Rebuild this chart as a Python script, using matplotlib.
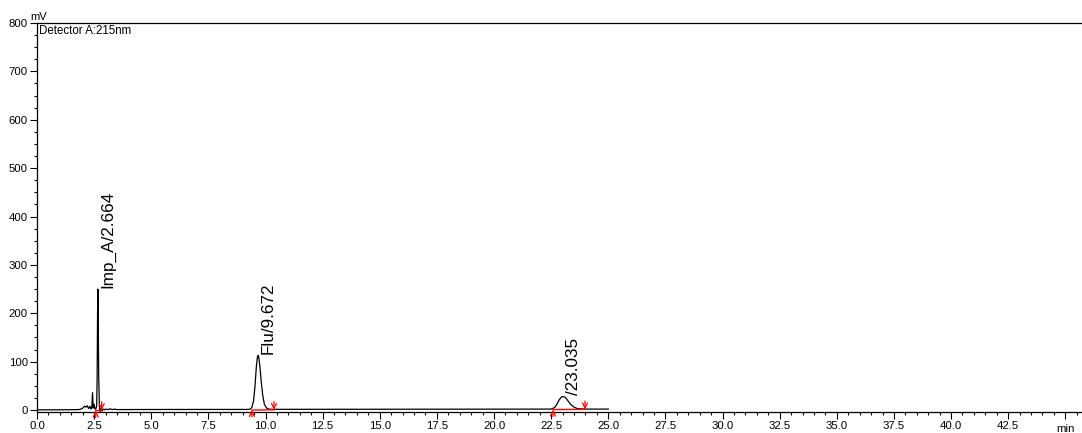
import numpy as np
import matplotlib
matplotlib.use("Agg")
import matplotlib.pyplot as plt
from matplotlib.ticker import MultipleLocator

plt.rcParams['font.family'] = ['Liberation Sans', 'DejaVu Sans']

# chromatogram trace (time in min, signal in mV)
time_min = [0.0, 1.0, 1.8, 1.9, 2.0, 2.08, 2.14, 2.2, 2.26, 2.32, 2.36, 2.40, 2.43,
            2.46, 2.50, 2.54, 2.58, 2.61, 2.63, 2.65, 2.664, 2.68, 2.70, 2.73, 2.76,
            2.80, 2.84, 2.90, 2.95, 3.0, 3.1, 3.2, 3.3, 3.4, 3.5, 5.0, 7.5, 9.2,
            9.30, 9.40, 9.48, 9.54, 9.60, 9.64, 9.672, 9.70, 9.75, 9.81, 9.88, 9.95,
            10.05, 10.15, 10.3, 12.5, 15.0, 17.5, 20.0, 22.4, 22.5, 22.65, 22.75,
            22.85, 22.95, 23.035, 23.12, 23.22, 23.35, 23.5, 23.65, 23.8, 24.0, 25.0]
signal_mv = [0.5, 0.5, 1.0, 1.5, 4.0, 8.0, 6.0, 9.0, 3.0, 8.0, 2.0, 5.0, 36.0,
             4.0, 12.0, 2.0, 3.0, 8.0, 60.0, 200.0, 250.0, 190.0, 70.0, 8.0, -3.0,
             3.0, -2.0, 2.0, 0.5, 2.0, 1.0, 2.5, 1.0, 2.0, 1.0, 1.2, 1.3, 1.3,
             1.5, 5.0, 20.0, 50.0, 90.0, 108.0, 113.0, 110.0, 92.0, 60.0, 30.0, 12.0,
             4.0, 2.0, 1.5, 1.6, 1.7, 1.8, 1.9, 2.0, 2.2, 5.0, 12.0,
             21.0, 27.0, 28.0, 26.0, 20.0, 12.0, 6.0, 3.0, 2.5, 2.0, 2.0]

# peak labels
peak_labels = ["Imp_A/2.664", "Flu/9.672", "/23.035"]
peak_rt = [2.664, 9.672, 23.035]
peak_height = [250.0, 113.0, 28.0]

# integration baselines (start/end time and level)
base_start_t = [2.57, 9.40, 22.58]
base_end_t = [2.83, 10.37, 23.98]
base_start_y = [-1.0, 0.0, 1.0]
base_end_y = [0.0, 0.5, 1.5]

fig = plt.figure(figsize=(10.82, 4.33), dpi=100)
ax = fig.add_axes([37 / 1082, 1 - 412 / 433, 1 - 37 / 1082, (412 - 23) / 433])

ax.plot(time_min, signal_mv, color="black", lw=0.9)

red = "#ff0000"
for t0, y0, t1, y1 in zip(base_start_t, base_start_y, base_end_t, base_end_y):
    ax.plot([t0, t1], [y0, y1], color=red, lw=1.0)
    ax.annotate("", xy=(t0, y0), xytext=(0, -5), textcoords="offset points",
                arrowprops=dict(arrowstyle="->", color=red, lw=0.9,
                                shrinkA=0, shrinkB=0, mutation_scale=9))
    ax.annotate("", xy=(t1, y1), xytext=(0, 6), textcoords="offset points",
                arrowprops=dict(arrowstyle="->", color=red, lw=0.9,
                                shrinkA=0, shrinkB=0, mutation_scale=9))

for lab, rt, h in zip(peak_labels, peak_rt, peak_height):
    ax.annotate(lab, xy=(rt, h), xytext=(2, 1), textcoords="offset points",
                rotation=90, ha="left", va="bottom", fontsize=12.3)

ax.set_xlim(0, 45.73)
ax.set_ylim(-4, 800)
ax.xaxis.set_major_locator(MultipleLocator(2.5))
ax.xaxis.set_minor_locator(MultipleLocator(0.5))
ax.yaxis.set_major_locator(MultipleLocator(100))
ax.yaxis.set_minor_locator(MultipleLocator(25))

xt = np.arange(0, 45.1, 2.5)
ax.set_xticks(xt)
ax.set_xticklabels(["%.1f" % v for v in xt[:-1]] + [""])
ax.tick_params(axis="both", which="major", length=5, width=0.8, labelsize=8.2, pad=1.5)
ax.tick_params(axis="both", which="minor", length=2.5, width=0.8)

ax.spines["right"].set_visible(False)
for s in ["left", "bottom", "top"]:
    ax.spines[s].set_linewidth(0.9)

ax.text(45.0, -0.03, "min", transform=ax.get_xaxis_transform(), ha="center",
        va="top", fontsize=8.2, clip_on=False)
ax.text(-0.3, 803, "mV", ha="left", va="bottom", fontsize=8, clip_on=False)
ax.text(0.1, 796, "Detector A:215nm", ha="left", va="top", fontsize=8.3)

fig.savefig("out.png", dpi=100)
